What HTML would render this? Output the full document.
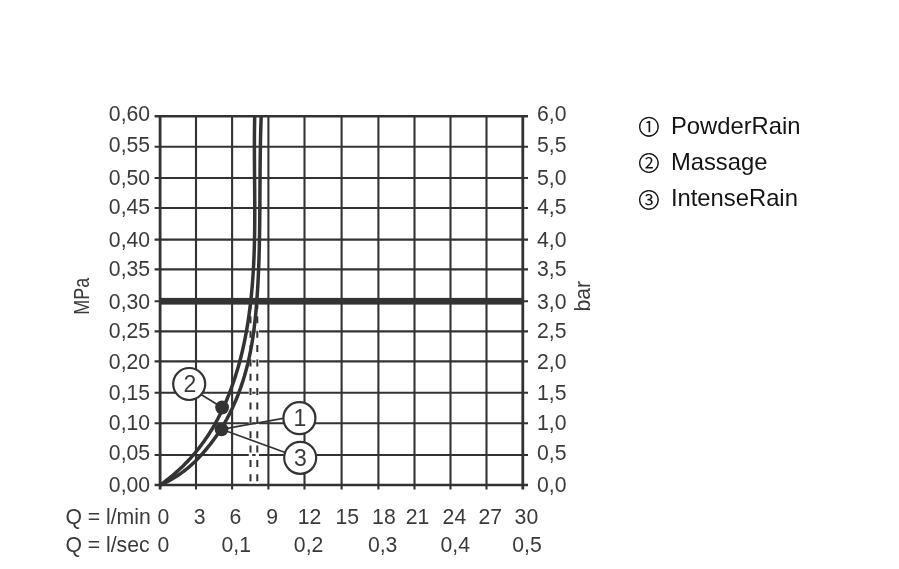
<!DOCTYPE html><html><head><meta charset="utf-8"><style>html,body{margin:0;padding:0;background:#fff;}svg{display:block;will-change:transform;}</style></head><body>
<svg width="899" height="569" viewBox="0 0 899 569">
<rect width="899" height="569" fill="#fff"/>
<g stroke="#333" fill="none">
<line x1="160.1" y1="115.3" x2="160.1" y2="489.6" stroke-width="2.8"/>
<line x1="196.0" y1="115.3" x2="196.0" y2="489.6" stroke-width="2.1"/>
<line x1="232.1" y1="115.3" x2="232.1" y2="489.6" stroke-width="2.1"/>
<line x1="268.4" y1="115.3" x2="268.4" y2="489.6" stroke-width="2.1"/>
<line x1="304.5" y1="115.3" x2="304.5" y2="489.6" stroke-width="2.1"/>
<line x1="341.6" y1="115.3" x2="341.6" y2="489.6" stroke-width="2.1"/>
<line x1="378.4" y1="115.3" x2="378.4" y2="489.6" stroke-width="2.1"/>
<line x1="414.5" y1="115.3" x2="414.5" y2="489.6" stroke-width="2.1"/>
<line x1="450.5" y1="115.3" x2="450.5" y2="489.6" stroke-width="2.1"/>
<line x1="486.5" y1="115.3" x2="486.5" y2="489.6" stroke-width="2.1"/>
<line x1="522.8" y1="115.3" x2="522.8" y2="489.6" stroke-width="2.8"/>
<line x1="154.6" y1="116.3" x2="528.0" y2="116.3" stroke-width="2.5"/>
<line x1="154.6" y1="146.7" x2="528.0" y2="146.7" stroke-width="2.1"/>
<line x1="154.6" y1="178.0" x2="528.0" y2="178.0" stroke-width="2.1"/>
<line x1="154.6" y1="208.0" x2="528.0" y2="208.0" stroke-width="2.1"/>
<line x1="154.6" y1="239.6" x2="528.0" y2="239.6" stroke-width="2.1"/>
<line x1="154.6" y1="269.4" x2="528.0" y2="269.4" stroke-width="2.1"/>
<line x1="154.6" y1="331.4" x2="528.0" y2="331.4" stroke-width="2.1"/>
<line x1="154.6" y1="361.4" x2="528.0" y2="361.4" stroke-width="2.1"/>
<line x1="154.6" y1="392.8" x2="528.0" y2="392.8" stroke-width="2.1"/>
<line x1="154.6" y1="423.3" x2="528.0" y2="423.3" stroke-width="2.1"/>
<line x1="154.6" y1="455.0" x2="528.0" y2="455.0" stroke-width="2.1"/>
<line x1="154.6" y1="485.1" x2="528.0" y2="485.1" stroke-width="2.5"/>
</g>
<line x1="154.6" y1="301.3" x2="528.0" y2="301.3" stroke="#333" stroke-width="2.0"/>
<rect x="160.1" y="297.9" width="362.69999999999993" height="6.7" fill="#333"/>
<line x1="250.5" y1="304.5" x2="250.5" y2="483.6" stroke="#fff" stroke-width="3.4"/>
<line x1="257.3" y1="304.5" x2="257.3" y2="483.6" stroke="#fff" stroke-width="3.4"/>
<line x1="250.5" y1="301.9" x2="250.5" y2="485" stroke="#333" stroke-width="2.0" stroke-dasharray="7 7.37"/>
<line x1="257.3" y1="301.9" x2="257.3" y2="485" stroke="#333" stroke-width="2.0" stroke-dasharray="7 7.37"/>
<path d="M160.34,485.00 L162.61,483.33 L164.83,481.67 L166.98,480.00 L169.08,478.33 L171.13,476.67 L173.11,475.00 L175.05,473.33 L176.93,471.67 L178.77,470.00 L180.56,468.33 L182.30,466.67 L183.99,465.00 L185.64,463.33 L187.25,461.67 L188.81,460.00 L190.34,458.33 L191.83,456.67 L193.28,455.00 L194.70,453.33 L196.08,451.67 L197.43,450.00 L198.75,448.33 L200.04,446.67 L201.31,445.00 L202.54,443.33 L203.75,441.67 L204.93,440.00 L206.08,438.33 L207.21,436.67 L208.31,435.00 L209.39,433.33 L210.44,431.67 L211.47,430.00 L212.48,428.33 L213.47,426.67 L214.43,425.00 L215.37,423.33 L216.29,421.67 L217.20,420.00 L217.73,419.00 L220.86,412.82 L223.76,406.64 L226.45,400.47 L228.97,394.29 L231.32,388.11 L233.52,381.93 L235.56,375.76 L237.46,369.58 L239.23,363.40 L240.86,357.22 L242.37,351.05 L243.76,344.87 L245.04,338.69 L246.21,332.51 L247.28,326.34 L248.26,320.16 L249.15,313.98 L249.96,307.80 L250.69,301.63 L251.35,295.45 L251.93,289.27 L252.45,283.09 L252.91,276.92 L253.30,270.74 L253.64,264.56 L253.92,258.38 L254.16,252.21 L254.35,246.03 L254.50,239.85 L254.61,233.67 L254.69,227.50 L254.74,221.32 L254.77,215.14 L254.77,208.96 L254.75,202.79 L254.72,196.61 L254.68,190.43 L254.63,184.25 L254.57,178.08 L254.52,171.90 L254.48,165.72 L254.44,159.54 L254.41,153.37 L254.40,147.19 L254.40,141.01 L254.43,134.83 L254.49,128.66 L254.58,122.48 L254.70,116.30" fill="none" stroke="#333" stroke-width="3.5" stroke-linejoin="round" stroke-linecap="butt"/>
<path d="M160.83,485.00 L164.17,483.33 L167.34,481.67 L170.35,480.00 L173.19,478.33 L175.89,476.67 L178.45,475.00 L180.87,473.33 L183.18,471.67 L185.36,470.00 L187.44,468.33 L189.42,466.67 L191.31,465.00 L193.12,463.33 L194.86,461.67 L196.53,460.00 L198.14,458.33 L199.70,456.67 L201.22,455.00 L202.71,453.33 L204.17,451.67 L205.59,450.00 L206.98,448.33 L208.34,446.67 L209.67,445.00 L210.97,443.33 L212.24,441.67 L213.48,440.00 L214.69,438.33 L215.87,436.67 L217.03,435.00 L218.16,433.33 L219.26,431.67 L220.34,430.00 L221.39,428.33 L222.42,426.67 L223.42,425.00 L224.40,423.33 L225.35,421.67 L226.29,420.00 L226.84,419.00 L230.06,412.82 L233.02,406.64 L235.73,400.47 L238.23,394.29 L240.52,388.11 L242.62,381.93 L244.53,375.76 L246.26,369.58 L247.83,363.40 L249.25,357.22 L250.52,351.05 L251.66,344.87 L252.67,338.69 L253.57,332.51 L254.37,326.34 L255.08,320.16 L255.70,313.98 L256.26,307.80 L256.75,301.63 L257.19,295.45 L257.59,289.27 L257.95,283.09 L258.26,276.92 L258.54,270.74 L258.78,264.56 L258.99,258.38 L259.17,252.21 L259.33,246.03 L259.46,239.85 L259.57,233.67 L259.66,227.50 L259.73,221.32 L259.79,215.14 L259.84,208.96 L259.89,202.79 L259.92,196.61 L259.96,190.43 L260.00,184.25 L260.04,178.08 L260.08,171.90 L260.13,165.72 L260.20,159.54 L260.28,153.37 L260.37,147.19 L260.49,141.01 L260.62,134.83 L260.78,128.66 L260.97,122.48 L261.19,116.30" fill="none" stroke="#333" stroke-width="3.5" stroke-linejoin="round" stroke-linecap="butt"/>
<g stroke="#333" stroke-width="1.7">
<line x1="222.1" y1="407.5" x2="195" y2="390.8"/>
<line x1="221.5" y1="429.3" x2="290" y2="417.1"/>
<line x1="221.5" y1="429.3" x2="290" y2="454.3"/>
</g>
<circle cx="222.1" cy="407.5" r="6.9" fill="#333"/>
<circle cx="221.5" cy="429.3" r="6.9" fill="#333"/>
<circle cx="189.2" cy="384.0" r="16" fill="#fff" stroke="#333" stroke-width="2.2"/>
<circle cx="299.4" cy="418.2" r="16" fill="#fff" stroke="#333" stroke-width="2.2"/>
<circle cx="300.2" cy="457.8" r="16" fill="#fff" stroke="#333" stroke-width="2.2"/>
<g font-family="Liberation Sans, Arial, sans-serif" fill="#3a3a3a" font-size="21.2">
<text x="190.0" y="391.6" text-anchor="middle" font-size="23">2</text>
<text x="299.9" y="426.4" text-anchor="middle" font-size="23">1</text>
<text x="300.5" y="465.6" text-anchor="middle" font-size="23">3</text>
<text x="150.1" y="121.0" text-anchor="end">0,60</text>
<text x="150.1" y="152.1" text-anchor="end">0,55</text>
<text x="150.1" y="185.1" text-anchor="end">0,50</text>
<text x="150.1" y="214.1" text-anchor="end">0,45</text>
<text x="150.1" y="246.9" text-anchor="end">0,40</text>
<text x="150.1" y="275.8" text-anchor="end">0,35</text>
<text x="150.1" y="308.5" text-anchor="end">0,30</text>
<text x="150.1" y="337.6" text-anchor="end">0,25</text>
<text x="150.1" y="368.5" text-anchor="end">0,20</text>
<text x="150.1" y="399.7" text-anchor="end">0,15</text>
<text x="150.1" y="430.0" text-anchor="end">0,10</text>
<text x="150.1" y="459.8" text-anchor="end">0,05</text>
<text x="150.1" y="492.2" text-anchor="end">0,00</text>
<text x="537.0" y="121.0">6,0</text>
<text x="537.0" y="152.1">5,5</text>
<text x="537.0" y="185.1">5,0</text>
<text x="537.0" y="214.1">4,5</text>
<text x="537.0" y="246.9">4,0</text>
<text x="537.0" y="275.8">3,5</text>
<text x="537.0" y="308.5">3,0</text>
<text x="537.0" y="337.6">2,5</text>
<text x="537.0" y="368.5">2,0</text>
<text x="537.0" y="399.7">1,5</text>
<text x="537.0" y="430.0">1,0</text>
<text x="537.0" y="459.8">0,5</text>
<text x="537.0" y="492.2">0,0</text>
<text x="163.5" y="523.9" text-anchor="middle">0</text>
<text x="199.75" y="523.9" text-anchor="middle">3</text>
<text x="235.45" y="523.9" text-anchor="middle">6</text>
<text x="272.1" y="523.9" text-anchor="middle">9</text>
<text x="309.6" y="523.9" text-anchor="middle">12</text>
<text x="347.2" y="523.9" text-anchor="middle">15</text>
<text x="383.9" y="523.9" text-anchor="middle">18</text>
<text x="417.5" y="523.9" text-anchor="middle">21</text>
<text x="454.4" y="523.9" text-anchor="middle">24</text>
<text x="490.3" y="523.9" text-anchor="middle">27</text>
<text x="526.4" y="523.9" text-anchor="middle">30</text>
<text x="163.5" y="551.8" text-anchor="middle">0</text>
<text x="236.3" y="551.8" text-anchor="middle">0,1</text>
<text x="308.6" y="551.8" text-anchor="middle">0,2</text>
<text x="382.7" y="551.8" text-anchor="middle">0,3</text>
<text x="455.3" y="551.8" text-anchor="middle">0,4</text>
<text x="527.0" y="551.8" text-anchor="middle">0,5</text>
<text x="65.4" y="523.9">Q = l/min</text>
<text x="65.4" y="551.8">Q = l/sec</text>
<text transform="translate(89.3,296.3) rotate(-90)" text-anchor="middle" textLength="37" lengthAdjust="spacingAndGlyphs">MPa</text>
<text transform="translate(589.8,296.3) rotate(-90)" text-anchor="middle">bar</text>
</g>
<g font-family="Liberation Sans, Arial, sans-serif" fill="#141414">
<text x="638.70" y="134.77" font-family="Liberation Sans, Noto Sans CJK JP, sans-serif" font-size="20.4">①</text>
<circle cx="648.9" cy="126.7" r="9.3" fill="none" stroke="#1a1a1a" stroke-width="1.3"/>
<text x="670.9" y="133.7" font-size="23.8">PowderRain</text>
<text x="638.70" y="171.07" font-family="Liberation Sans, Noto Sans CJK JP, sans-serif" font-size="20.4">②</text>
<circle cx="648.9" cy="163.0" r="9.3" fill="none" stroke="#1a1a1a" stroke-width="1.3"/>
<text x="670.9" y="170.2" font-size="23.8">Massage</text>
<text x="638.70" y="207.97" font-family="Liberation Sans, Noto Sans CJK JP, sans-serif" font-size="20.4">③</text>
<circle cx="648.9" cy="199.9" r="9.3" fill="none" stroke="#1a1a1a" stroke-width="1.3"/>
<text x="670.9" y="206.1" font-size="23.8">IntenseRain</text>
</g>
</svg></body></html>
